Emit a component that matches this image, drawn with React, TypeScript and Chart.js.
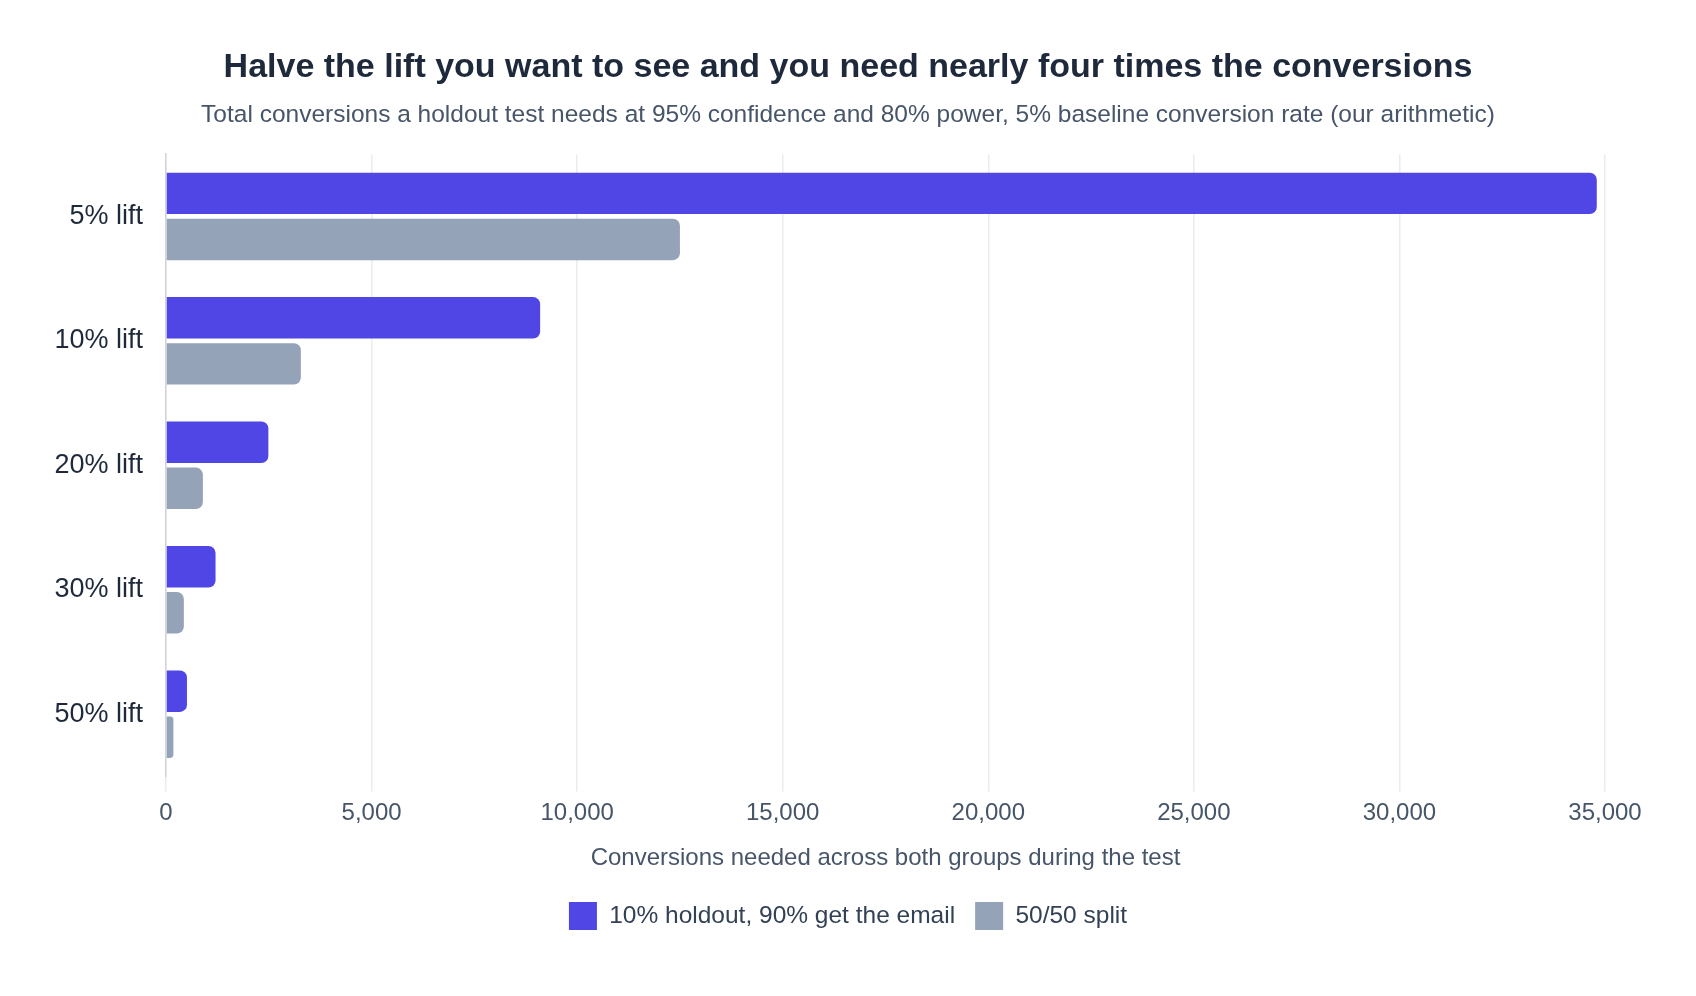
import { useEffect, useRef } from "react"
import { Chart, registerables, type ChartConfiguration, type Plugin } from "chart.js"

Chart.register(...registerables)

const lifts = ["5% lift", "10% lift", "20% lift", "30% lift", "50% lift"]
const holdoutConversions = [34800, 9100, 2490, 1205, 510]
const splitConversions = [12500, 3280, 897, 434, 180]
const xTicks = [0, 5000, 10000, 15000, 20000, 25000, 30000, 35000]

const FONT = "'Liberation Sans', Arial, Helvetica, sans-serif"

// the category labels hang out to the left of the (narrow) y axis box,
// so widen the label clip area once the layout is done
const unclipYLabels: Plugin<"bar"> = {
  id: "unclipYLabels",
  afterLayout: (chart) => {
    const y = chart.scales.y
    if (y) y.left = 0
  },
}

export default function App() {
  const canvasRef = useRef<HTMLCanvasElement>(null)
  const chartRef = useRef<Chart | null>(null)

  useEffect(() => {
    if (!canvasRef.current) return
    if (chartRef.current) chartRef.current.destroy()

    const ctx = canvasRef.current.getContext("2d")
    if (!ctx) return

    const config: ChartConfiguration<"bar", number[], string> = {
      type: "bar",
      data: {
        labels: lifts,
        datasets: [
          {
            label: "10% holdout, 90% get the email",
            data: holdoutConversions,
            backgroundColor: "#4f46e5",
            borderRadius: 7,
            categoryPercentage: 0.74,
            barPercentage: 0.9,
          },
          {
            label: "50/50 split",
            data: splitConversions,
            backgroundColor: "#94a3b8",
            borderRadius: 7,
            categoryPercentage: 0.74,
            barPercentage: 0.9,
          },
        ],
      },
      options: {
        indexAxis: "y",
        responsive: true,
        maintainAspectRatio: false,
        animation: false,
        layout: { padding: { top: 20, left: 83, right: 83, bottom: 48 } },
        scales: {
          x: {
            min: 0,
            max: 35000,
            afterBuildTicks: (scale) => {
              scale.ticks = xTicks.map((v) => ({ value: v }))
            },
            grid: { color: "#ececec", drawTicks: true, tickLength: 15, lineWidth: 1.5 },
            border: { display: false },
            ticks: {
              padding: 8,
              color: "#475569",
              font: { family: FONT, size: 24 },
              callback: (v) => Number(v).toLocaleString("en-US"),
            },
            title: {
              display: true,
              text: "Conversions needed across both groups during the test",
              color: "#475569",
              font: { family: FONT, size: 24 },
              padding: { top: 8, bottom: 9 },
            },
          },
          y: {
            afterFit: (scale) => {
              scale.width = 75
            },
            grid: { display: false, drawTicks: false },
            border: { display: true, color: "#d1d5db", width: 1.5 },
            ticks: {
              padding: 23,
              color: "#1e293b",
              font: { family: FONT, size: 27 },
            },
          },
        },
        plugins: {
          title: {
            display: true,
            text: "Halve the lift you want to see and you need nearly four times the conversions",
            color: "#1e293b",
            font: { family: FONT, size: 34, weight: "bold" },
            padding: { top: 19, bottom: 0 },
          },
          subtitle: {
            display: true,
            text: "Total conversions a holdout test needs at 95% confidence and 80% power, 5% baseline conversion rate (our arithmetic)",
            color: "#475569",
            font: { family: FONT, size: 24.5 },
            padding: { top: 13, bottom: 24 },
          },
          legend: {
            position: "bottom",
            labels: {
              boxWidth: 28,
              boxHeight: 28,
              padding: 20,
              color: "#334155",
              font: { family: FONT, size: 24.5 },
            },
          },
          tooltip: { enabled: false },
        },
      },
      plugins: [unclipYLabels],
    }

    chartRef.current = new Chart(ctx, config)

    return () => {
      if (chartRef.current) {
        chartRef.current.destroy()
        chartRef.current = null
      }
    }
  }, [])

  return (
    <div style={{ position: "relative", width: "100%", height: 980 }}>
      <canvas ref={canvasRef} />
    </div>
  )
}
